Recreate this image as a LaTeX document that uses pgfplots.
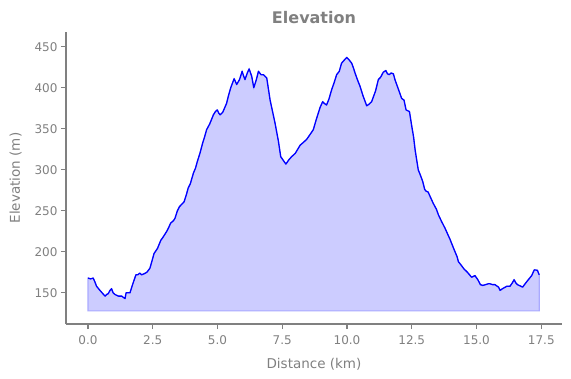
\documentclass[border=0pt]{standalone}
\usepackage{pgfplots}
\pgfplotsset{compat=1.18}
\usepackage{pgfplotstable}
\usepackage{fontspec}
\setmainfont{DejaVu Sans}
\definecolor{txtgray}{HTML}{808080}
\definecolor{fillblue}{HTML}{CCCCFF}
\definecolor{edgeblue}{HTML}{AAAAFF}
\pgfplotstableread{
km elev
0.00 168
0.10 167
0.20 168
0.27 163
0.33 158
0.46 153
0.60 148
0.66 146
0.72 148
0.78 149
0.85 153
0.91 155
0.97 150
1.04 148
1.17 146
1.30 146
1.34 145
1.43 143
1.47 150
1.49 150
1.62 150
1.72 160
1.85 172
1.92 172
2.00 174
2.07 172
2.15 173
2.27 175
2.39 180
2.48 190
2.55 198
2.68 204
2.81 214
2.90 218
3.04 225
3.12 230
3.19 235
3.30 238
3.36 241
3.45 250
3.53 255
3.62 258
3.71 261
3.80 270
3.87 278
3.95 283
4.07 296
4.15 302
4.22 310
4.32 320
4.43 333
4.50 340
4.58 349
4.70 356
4.84 367
4.92 371
4.99 373
5.05 369
5.10 367
5.20 370
5.35 381
5.42 390
5.51 400
5.64 411
5.70 407
5.74 404
5.85 410
5.95 420
6.00 415
6.06 410
6.15 418
6.22 423
6.32 414
6.40 400
6.50 410
6.58 420
6.68 416
6.77 416
6.90 412
7.03 385
7.22 357
7.35 335
7.44 316
7.55 311
7.64 307
7.75 312
7.86 316
8.00 320
8.19 330
8.30 333
8.44 337
8.55 342
8.70 349
8.80 360
8.89 369
8.96 376
9.06 383
9.12 381
9.21 379
9.30 386
9.41 398
9.50 406
9.60 416
9.70 420
9.79 430
9.90 434
9.99 437
10.08 434
10.18 430
10.25 424
10.31 418
10.40 410
10.50 402
10.62 390
10.76 378
10.85 380
10.95 383
11.10 396
11.21 410
11.30 413
11.40 419
11.50 421
11.56 417
11.63 416
11.70 418
11.79 417
11.85 410
11.94 402
12.02 395
12.11 387
12.20 385
12.28 373
12.41 371
12.50 353
12.57 340
12.63 324
12.70 310
12.75 300
12.85 292
12.92 286
13.00 276
13.05 274
13.13 273
13.20 268
13.33 259
13.45 252
13.53 245
13.65 237
13.78 229
13.88 222
13.98 215
14.08 207
14.17 200
14.25 194
14.30 188
14.40 184
14.52 179
14.65 175
14.81 169
14.94 171
15.05 166
15.15 160
15.24 159
15.35 160
15.45 161
15.52 161
15.62 160
15.71 160
15.80 158
15.85 157
15.91 153
16.00 155
16.17 158
16.29 158
16.38 162
16.45 166
16.52 162
16.58 160
16.78 157
16.90 162
17.00 166
17.13 171
17.23 178
17.35 177.5
17.42 172
}\elev
\begin{document}
\begin{tikzpicture}
\begin{axis}[
  scale only axis,
  width=496pt, height=292pt,
  xmin=-0.85, xmax=18.3,
  ymin=112, ymax=468,
  axis x line*=bottom, axis y line*=left,
  axis line style={txtgray, line width=1.1pt},
  tick align=outside,
  major tick length=5pt,
  tick style={txtgray, line width=1.1pt},
  xtick={0,2.5,5,7.5,10,12.5,15,17.5},
  xticklabels={0.0,2.5,5.0,7.5,10.0,12.5,15.0,17.5},
  ytick={150,200,250,300,350,400,450},
  /pgf/number format/assume math mode=true,
  ticklabel style={font=\fontsize{12}{14}\selectfont, text=txtgray},
  xticklabel style={yshift=-3pt},
  label style={font=\fontsize{13.5}{16}\selectfont, text=txtgray},
  xlabel style={yshift=-7pt},
  ylabel shift=6pt,
  title style={font=\fontsize{16}{19}\selectfont\bfseries, text=txtgray, yshift=-1pt},
  title={Elevation},
  xlabel={Distance (km)},
  ylabel={Elevation (m)},
  clip=false,
]
\addplot[fill=fillblue, draw=edgeblue, line width=1.1pt] table[x=km,y=elev] {\elev} -- (axis cs:17.42,128) -- (axis cs:0,128) -- cycle;
\addplot[blue, line width=1.3pt, line join=round] table[x=km,y=elev] {\elev};
\path (rel axis cs:0,0) ++(-66pt,-54pt) coordinate (bbsw);
\path (rel axis cs:1,1) ++(9pt,32pt) coordinate (bbne);
\end{axis}
\useasboundingbox (bbsw) rectangle (bbne);
\end{tikzpicture}
\end{document}
